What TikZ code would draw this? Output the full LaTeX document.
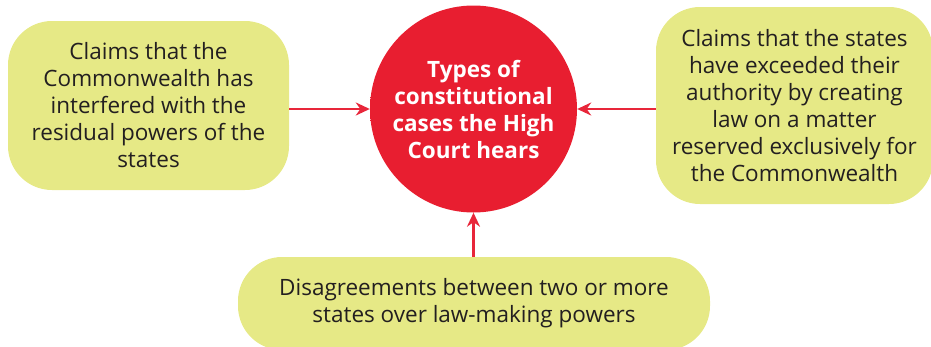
\documentclass[tikz,border=0pt]{standalone}
\usepackage{fontspec}
\setmainfont{Open Sans}
\usetikzlibrary{arrows.meta}

\definecolor{boxyellow}{HTML}{E6E986}
\definecolor{hubred}{HTML}{E81E30}
\definecolor{hubdark}{HTML}{B81426}
\definecolor{arrowred}{HTML}{E8263A}
\definecolor{inkgray}{HTML}{231F20}
\pgfdeclareradialshading{hubshade}{\pgfpoint{0bp}{0bp}}{color(0bp)=(hubred); color(36bp)=(hubred); color(50bp)=(hubdark)}

\tikzstyle{claim} = [rectangle,rounded corners=44pt,fill=boxyellow,align=center,text=inkgray,font=\fontsize{22.5}{27}\selectfont]
\tikzstyle{hub} = [circle,shading=hubshade,minimum size=207pt,inner sep=0pt,align=center,text=white,font=\fontsize{22.5}{27}\selectfont\bfseries]
\tikzstyle{feed} = [draw=arrowred,line width=2.5pt,-{Stealth[length=14pt,width=13pt]}]

\begin{document}
\begin{tikzpicture}[x=1pt,y=-1pt]
		\useasboundingbox (0,0) rectangle (931,346);
		\node[hub] (hub) at (473.5,109) {Types of\\constitutional\\cases the High\\Court hears};
		\node[claim,minimum width=281pt,minimum height=169pt] (lbox) at (148.5,105.5) {Claims that the\\Commonwealth has\\interfered with the\\residual powers of the\\states};
		\node[claim,minimum width=277pt,minimum height=197pt] (rbox) at (794.5,105.5) {Claims that the states\\have exceeded their\\authority by creating\\law on a matter\\reserved exclusively for\\the Commonwealth};
		\node[claim,minimum width=472pt,minimum height=93pt] (bbox) at (474,303.5) {Disagreements between two or more\\states over law-making powers};
		\draw[feed] (lbox.east |- hub) -- (hub.west);
		\draw[feed] (rbox.west |- hub) -- (hub.east);
		\draw[feed] (bbox.north -| hub) -- (hub.south);
\end{tikzpicture}
\end{document}
